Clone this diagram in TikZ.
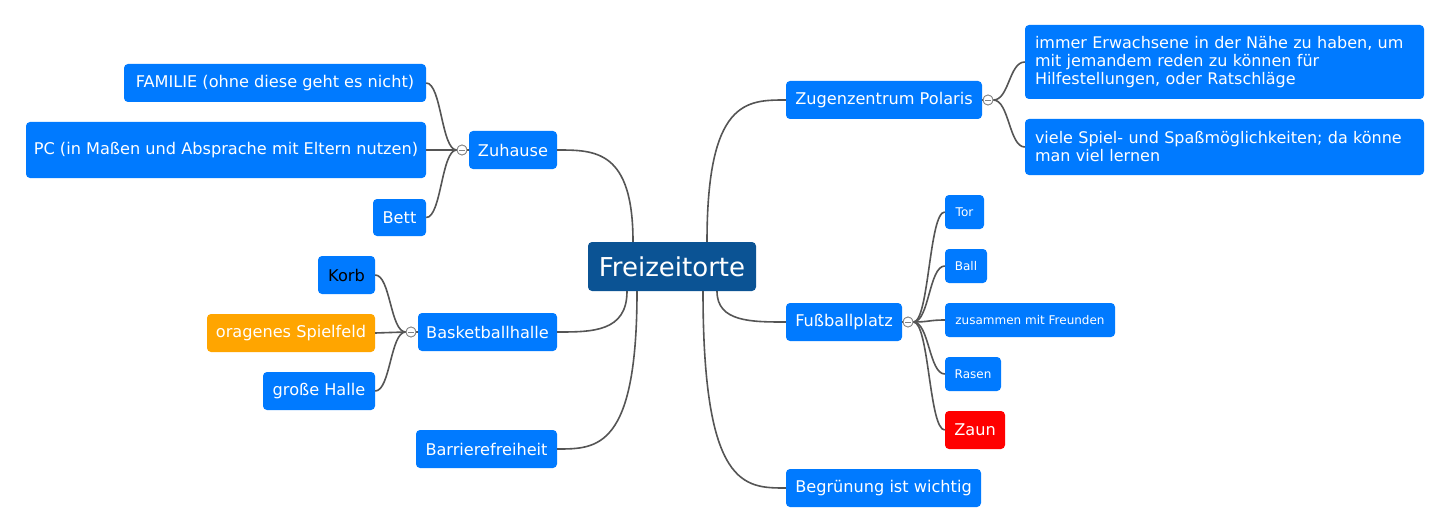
\documentclass[tikz,border=0pt]{standalone}
\usepackage{fontspec}
\setmainfont{DejaVu Sans}
\usetikzlibrary{calc}
\definecolor{nodeblue}{RGB}{0,122,255}
\definecolor{rootblue}{RGB}{11,83,148}
\definecolor{nodeorange}{RGB}{255,165,0}
\definecolor{nodered}{RGB}{255,0,0}
\definecolor{linegray}{RGB}{85,85,85}
\definecolor{markgray}{RGB}{130,130,130}
\newcommand{\rootlink}[2]{\draw[conn] (#1) .. controls (#1 |- #2) and ($(#1 |- #2)!0.5!(#2)$) .. (#2);}
\newcommand{\sublink}[2]{\draw[conn] (#1) .. controls ($(#1)!0.5!(#1 -| #2)$) and ($(#2)!0.5!(#2 -| #1)$) .. (#2);}
\begin{document}
\begin{tikzpicture}[x=1pt,y=-1pt,
  box/.style={fill=nodeblue, rounded corners=4pt, inner sep=0pt, text=white,
    font=\fontsize{16.15}{18}\selectfont, align=center},
  multi/.style={box, font=\fontsize{16}{18}\selectfont, text width=379pt, align=left},
  small/.style={box, font=\fontsize{12}{14}\selectfont},
  rootbox/.style={box, fill=rootblue, font=\fontsize{26}{29}\selectfont},
  conn/.style={draw=linegray, line width=1.6pt},
  marker/.style={circle, draw=markgray, fill=white, line width=0.8pt, minimum size=10pt, inner sep=0pt,
    path picture={\draw[markgray, line width=0.8pt] ([xshift=-3pt]path picture bounding box.center) -- ([xshift=3pt]path picture bounding box.center);}}
]
\useasboundingbox (0,0) rectangle (1450,532);
\fill[white] (0,0) rectangle (1450,532);

% nodes
\node[rootbox, minimum width=168pt, minimum height=49pt] (root) at (672,266.5) {Freizeitorte};
\node[box, minimum width=88pt, minimum height=38pt] (zuh) at (513,150) {Zuhause};
\node[box, minimum width=302pt, minimum height=38pt] (fam) at (275,83) {FAMILIE (ohne diese geht es nicht)};
\node[box, minimum width=400pt, minimum height=56pt] (pc) at (226,150) {PC (in Maßen und Absprache mit Eltern nutzen)};
\node[box, minimum width=53pt, minimum height=37pt] (bett) at (399.5,217.5) {Bett};
\node[box, minimum width=139pt, minimum height=38pt] (bask) at (487.5,332) {Basketballhalle};
\node[box, text=black, minimum width=57pt, minimum height=38pt] (korb) at (346.5,275) {Korb};
\node[box, fill=nodeorange, minimum width=168pt, minimum height=38pt] (spiel) at (291,333) {oragenes Spielfeld};
\node[box, minimum width=112pt, minimum height=38pt] (halle) at (319,391) {große Halle};
\node[box, minimum width=141pt, minimum height=38pt] (barr) at (486.5,449) {Barrierefreiheit};
\node[box, minimum width=196pt, minimum height=38pt] (pol) at (884,100) {Zugenzentrum Polaris};
\node[multi, minimum width=399pt, minimum height=74pt] (imm) at (1224.5,62)
  {immer Erwachsene in der Nähe zu haben, um\\mit jemandem reden zu können für\\Hilfestellungen, oder Ratschläge};
\node[multi, minimum width=399pt, minimum height=56pt] (viel) at (1224.5,147)
  {viele Spiel- und Spaßmöglichkeiten; da könne\\man viel lernen};
\node[box, minimum width=116pt, minimum height=38pt] (fuss) at (844,322) {Fußballplatz};
\node[small, minimum width=39pt, minimum height=34pt] (tor) at (964.5,212) {Tor};
\node[small, minimum width=42pt, minimum height=34pt] (ball) at (966,266) {Ball};
\node[small, minimum width=170pt, minimum height=34pt] (zus) at (1030,320) {zusammen mit Freunden};
\node[small, minimum width=56pt, minimum height=34pt] (rasen) at (973,374) {Rasen};
\node[box, fill=nodered, minimum width=60pt, minimum height=38pt] (zaun) at (975,430) {Zaun};
\node[box, minimum width=195pt, minimum height=38pt] (begr) at (883.5,488) {Begrünung ist wichtig};

% markers
\node[marker] (cz) at (462,150) {};
\node[marker] (cb) at (411,332) {};
\node[marker] (cp) at (988,100) {};
\node[marker] (cf) at (908,322) {};

% root connectors
\coordinate (rz) at ([xshift=-39pt]root.north);
\coordinate (rp) at ([xshift=35pt]root.north);
\coordinate (rb) at ([xshift=-45pt]root.south);
\coordinate (rr) at ([xshift=-35pt]root.south);
\coordinate (rf) at ([xshift=45pt]root.south);
\coordinate (rg) at ([xshift=31pt]root.south);
\rootlink{rz}{zuh.east}
\rootlink{rp}{pol.west}
\rootlink{rb}{bask.east}
\rootlink{rr}{barr.east}
\rootlink{rf}{fuss.west}
\rootlink{rg}{begr.west}

% node to marker
\draw[conn] (zuh.west) -- (cz.east);
\draw[conn] (bask.west) -- (cb.east);
\draw[conn] (pol.east) -- (cp.west);
\draw[conn] (fuss.east) -- (cf.west);

% sub connectors
\sublink{cz.west}{fam.east}
\sublink{cz.west}{pc.east}
\sublink{cz.west}{bett.east}
\sublink{cb.west}{korb.east}
\sublink{cb.west}{spiel.east}
\sublink{cb.west}{halle.east}
\sublink{cp.east}{imm.west}
\sublink{cp.east}{viel.west}
\sublink{cf.east}{tor.west}
\sublink{cf.east}{ball.west}
\sublink{cf.east}{zus.west}
\sublink{cf.east}{rasen.west}
\sublink{cf.east}{zaun.west}

% redraw markers on top
\node[marker] at (cz) {};
\node[marker] at (cb) {};
\node[marker] at (cp) {};
\node[marker] at (cf) {};
\end{tikzpicture}
\end{document}
